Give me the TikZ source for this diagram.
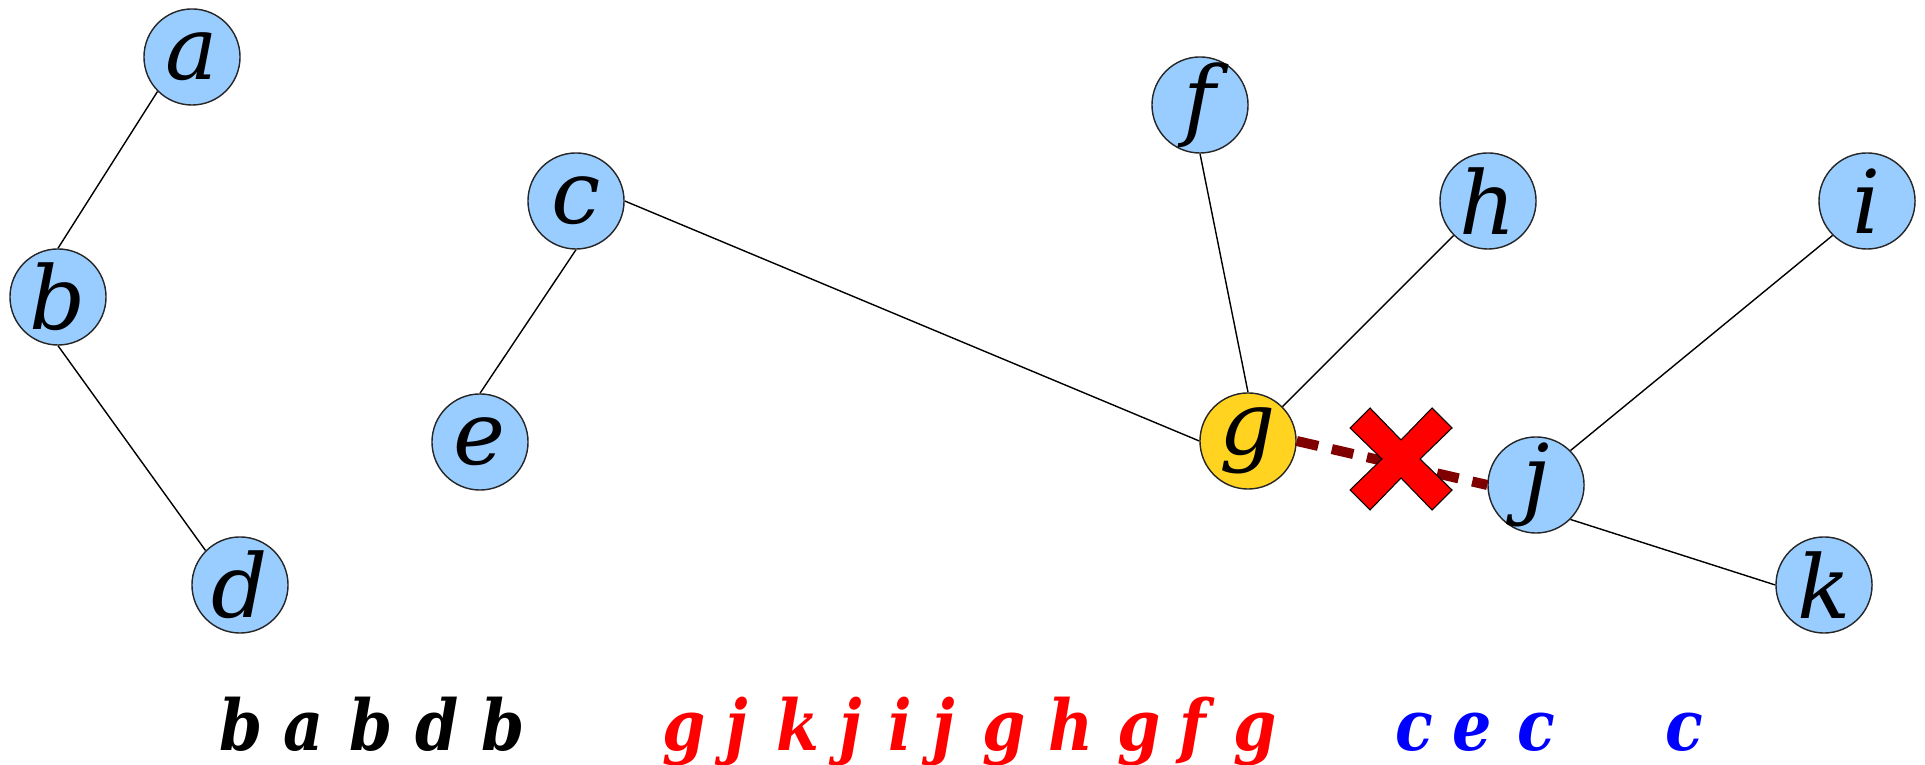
\documentclass[tikz,border=0pt]{standalone}
\usepackage{fontspec}
\setmainfont{DejaVu Serif}
\newfontfamily\seqfont[FakeStretch=0.88]{DejaVu Serif}
\usepackage{xcolor}
\definecolor{vertexblue}{RGB}{153,204,255}
\definecolor{vertexgold}{RGB}{255,211,32}
\definecolor{cutred}{RGB}{128,0,0}
\definecolor{seqblue}{RGB}{0,0,255}

\begin{document}
\begin{tikzpicture}[x=0.01cm, y=-0.01cm,
    vertex/.style={circle, draw=black!85, fill=vertexblue, line width=0.4pt,
        minimum size=0.96cm, inner sep=0pt, font=\fontsize{25}{30}\selectfont\itshape},
    edge/.style={black, line width=0.4pt},
    cutedge/.style={cutred, line width=0.1cm, dash pattern=on 0.22cm off 0.14cm},
    seq/.style={anchor=base, font=\fontsize{20}{24}\seqfont\bfseries\itshape}]
    \useasboundingbox (0,0) rectangle (1925,765);

    % Vertices
    \node[vertex] (a) at (192,57) {a};
    \node[vertex] (b) at (58,297) {b};
    \node[vertex] (d) at (240,585) {d};
    \node[vertex] (c) at (576,201) {c};
    \node[vertex] (e) at (480,442) {e};
    \node[vertex] (f) at (1200,105) {f};
    \node[vertex] (h) at (1488,201) {h};
    \node[vertex] (i) at (1867,201) {i};
    \node[vertex, fill=vertexgold] (g) at (1248,441) {g};
    \node[vertex] (j) at (1536,485) {j};
    \node[vertex] (k) at (1824,585) {k};

    % Edges (glued to fixed points of the circles)
    \draw[edge] (a.south west) -- (b.north);
    \draw[edge] (b.south) -- (d.north west);
    \draw[edge] (c.south) -- (e.north);
    \draw[edge] (c.east) -- (g.west);
    \draw[edge] (f.south) -- (g.north);
    \draw[edge] (h.south west) -- (g.north east);
    \draw[edge] (i.south west) -- (j.north east);
    \draw[edge] (j.south east) -- (k.west);
    \draw[cutedge] (g.east) -- (j.west);

    % Cross over the removed edge
    \coordinate (cut) at (1401,459);
    \draw[fill=red, draw=black, line width=0.3pt]
        ([shift={(0,19)}]cut) -- ([shift={(31,51)}]cut) -- ([shift={(51,31)}]cut)
        -- ([shift={(19,0)}]cut) -- ([shift={(51,-31)}]cut) -- ([shift={(31,-51)}]cut)
        -- ([shift={(0,-19)}]cut) -- ([shift={(-31,-51)}]cut) -- ([shift={(-51,-31)}]cut)
        -- ([shift={(-19,0)}]cut) -- ([shift={(-51,31)}]cut) -- ([shift={(-31,51)}]cut)
        -- cycle;

    % Traversal sequences
    \foreach \x/\l [count=\n] in {241/b,304/a,371/b,437/d,503/b}
        \node[seq] (blk\n) at (\x,751) {\l};
    \foreach \x/\l [count=\n] in {684/g,737/j,798/k,851/j,900/i,944/j,1004/g,1071/h,1139/g,1193/f,1255/g}
        \node[seq, red] (rd\n) at (\x,751) {\l};
    \foreach \x/\l [count=\n] in {1414/c,1472/e,1536/c,1684/c}
        \node[seq, seqblue] (bl\n) at (\x,751) {\l};
\end{tikzpicture}
\end{document}
